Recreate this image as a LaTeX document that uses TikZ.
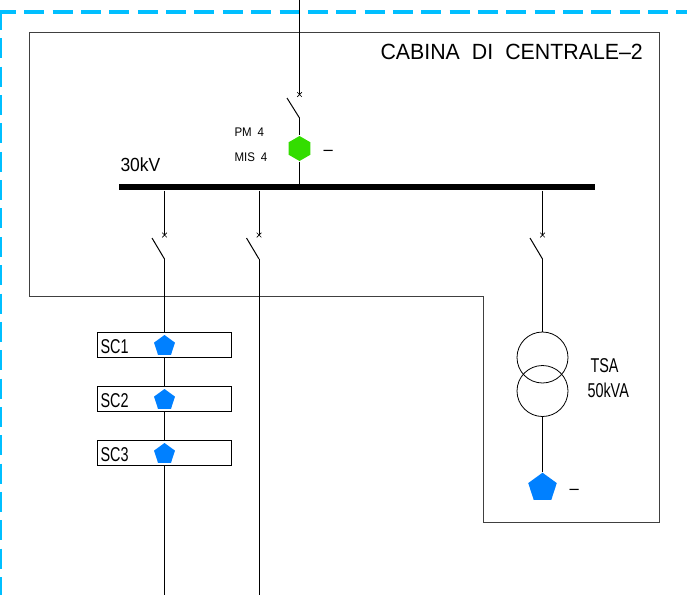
\documentclass[tikz,border=0pt]{standalone}
\usepackage{fontspec}
\usetikzlibrary{shapes.geometric,shapes.misc}
\newfontfamily\cadfont[FakeStretch=0.72]{Liberation Sans}
\newfontfamily\cadwide[FakeStretch=0.92]{Liberation Sans}
\newfontfamily\cadtitle[FakeStretch=0.97]{Liberation Sans}
\definecolor{borderblue}{HTML}{00BFFF}
\definecolor{pentblue}{HTML}{0080FF}
\definecolor{hexgreen}{HTML}{33DD00}
\tikzset{
cell/.style={draw, line width=1pt, fill=white, minimum width=133.5pt, minimum height=24.5pt, inner sep=0pt},
brk/.style={draw, cross out, line width=.7pt, minimum size=4pt, inner sep=0pt},
pent/.style={regular polygon, regular polygon sides=5, fill=pentblue, inner sep=0pt},
winding/.style={draw, circle, line width=.8pt, minimum size=51pt, inner sep=0pt},
lab/.style={anchor=base west, inner sep=0pt, font=\cadfont},
}
\begin{document}
\begin{tikzpicture}[x=1pt, y=-1pt, line width=1pt]
\useasboundingbox (0,0) rectangle (687,595);
% cabin outline and dashed border
\coordinate (bordertop) at (0.2,12);
\coordinate (borderright) at (687,12);
\coordinate (borderbottom) at (0.2,595);
\draw[borderblue, line width=3.5pt, dash pattern=on 20pt off 8.35pt, dash phase=4.2pt] (bordertop) -- (borderright);
\draw[borderblue, line width=3.5pt, dash pattern=on 20pt off 8.35pt, dash phase=2pt] (bordertop) -- (borderbottom);
\draw[black!75] (29.7,32) -- (659,32) -- (659,522) -- (483.7,522) -- (483.7,296) -- (29.7,296) -- cycle;
\node[lab, font=\cadtitle\fontsize{22}{22}\selectfont] (title) at (380,59.5) {CABINA\hspace{12pt}DI\hspace{12pt}CENTRALE–2};
% busbar
\node[fill=black, minimum width=476pt, minimum height=6pt, inner sep=0pt] (bus) at (357,187) {};
\node[lab, font=\cadwide\fontsize{19}{19}\selectfont] (buslab) at (120,171) {30kV};
% outgoing feeders
\foreach \x/\n in {164.5/a,259/b,542.5/c}{
\node[brk] (brk\n) at (\x,235) {};
\coordinate (tip\n) at (\x-12.5,238);
\coordinate (hinge\n) at (\x,259);
\draw (bus.south -| brk\n) -- (brk\n.center);
\draw (tip\n) -- (hinge\n);
}
\coordinate (enda) at (164.5,595);
\coordinate (endb) at (259,595);
\draw (hingea) -- (enda);
\draw (hingeb) -- (endb);
\foreach \i/\y in {1/345,2/399,3/453}{
\node[cell] (cell\i) at (164.25,\y) {};
\node[pent, minimum size=22pt] (pent\i) at (164.5,\y+1) {};
\node[lab, font=\cadfont\fontsize{20}{20}\selectfont] (sc\i) at (100,\y+8) {SC\i};
}
% incoming line
\coordinate (top) at (299.5,0);
\node[brk] (brkin) at (299.5,94.5) {};
\coordinate (tipin) at (287,98);
\coordinate (hingein) at (299.5,118);
\node[regular polygon, regular polygon sides=6, regular polygon rotate=30, fill=hexgreen, inner sep=0pt, minimum size=25pt] (hex) at (299.5,148.5) {};
\draw (top) -- (brkin.center);
\draw (tipin) -- (hingein);
\draw (hingein) -- (hex);
\draw (hex) -- (hex |- bus.north);
\node[lab, font=\cadwide\fontsize{12.5}{12.5}\selectfont] (pm) at (234,136.5) {PM\hspace{6pt}4};
\node[lab, font=\cadwide\fontsize{12.5}{12.5}\selectfont] (mis) at (234,161) {MIS\hspace{6pt}4};
\node[lab, font=\cadwide\fontsize{18}{18}\selectfont] (hexdash) at (323,155.6) {–};
% transformer
\node[winding] (wtop) at (542.5,357.5) {};
\node[winding] (wbot) at (542.5,391) {};
\node[pent, minimum size=30pt] (pentt) at (542.5,487.7) {};
\draw (hingec) -- (wtop);
\draw (wbot) -- (pentt);
\node[lab, font=\cadfont\fontsize{20}{20}\selectfont] (tsa) at (590,372) {TSA};
\node[lab, font=\cadfont\fontsize{20}{20}\selectfont] (kva) at (587,397) {50kVA};
\node[lab, font=\cadwide\fontsize{18}{18}\selectfont] (pentdash) at (569,494.3) {–};
\end{tikzpicture}
\end{document}
